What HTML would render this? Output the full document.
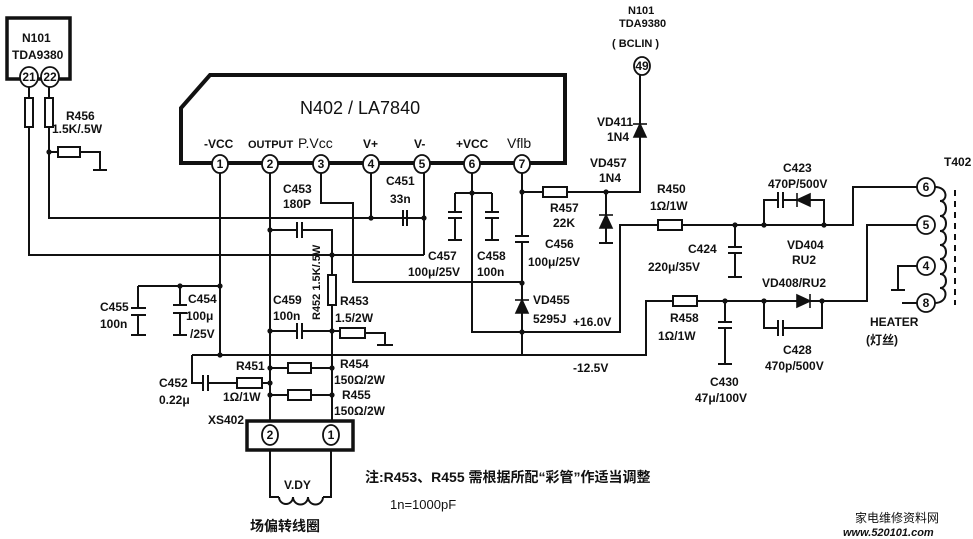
<!DOCTYPE html><html><head><meta charset="utf-8"><style>
html,body{margin:0;padding:0;background:#fff}
svg{display:block}
text{font-family:"Liberation Sans","Noto Sans CJK SC",sans-serif;fill:#111}
</style></head><body>
<svg width="973" height="539" viewBox="0 0 973 539" xmlns="http://www.w3.org/2000/svg">
<g stroke="#111" stroke-width="2" fill="none">
<rect x="7" y="18" width="63" height="61" stroke-width="3.5"/>
<path d="M565 163 V75 H210 L181 108 V163 Z" stroke-width="4"/>
<path d="M29 86 V98 M29 127 V255 H424 M49 86 V98 M49 127 V218 H424"/>
<rect x="25" y="98" width="8" height="29" fill="#fff"/>
<rect x="45" y="98" width="8" height="29" fill="#fff"/>
<path d="M49 152 H58 M80 152 H100 V170 M93 170 H107"/>
<rect x="58" y="147" width="22" height="10" fill="#fff"/>
<path d="M220 172 V355 M138 286 H220 M138 286 V308 M138 315 V335 M131 335 H146 M131 308 H146 M131 315 H146"/>
<path d="M180 286 V305 M173 305 H187 M173 313 H187 M180 313 V335 M173 335 H187"/>
<path d="M192 355 H646 V301 H673 M697 301 H764 M192 355 V383 H203 M208 383 H237 M262 383 H270"/>
<path d="M203 375 V391 M208 375 V391"/>
<rect x="237" y="378" width="25" height="10" fill="#fff"/>
<path d="M270 172 V420 M270 230 H297 M302 230 H332 V275 M332 305 V420 M270 331 H297 M302 331 H340 M365 333 H385 V345 M377 345 H393"/>
<path d="M297 222 V238 M302 222 V238 M297 323 V339 M302 323 V339"/>
<rect x="328" y="275" width="8" height="30" fill="#fff"/>
<rect x="340" y="328" width="25" height="10" fill="#fff"/>
<path d="M270 368 H288 M311 368 H332 M270 395 H288 M311 395 H332"/>
<rect x="288" y="363" width="23" height="10" fill="#fff"/>
<rect x="288" y="390" width="23" height="10" fill="#fff"/>
<rect x="247" y="421" width="106" height="29" stroke-width="3.5"/>
<path d="M270 450 V497 H279 M331 450 V497 H323"/>
<path d="M279 497 a7 7 0 0 0 14 0 a7 7 0 0 0 15 0 a7 7 0 0 0 15 0"/>
<path d="M321 172 V203 H353 V282 H523"/>
<path d="M371 172 V218 M403 210 V226 M407 210 V226 M424 172 V255"/>
<path d="M472 172 V332 H620 V225 H658 M455 193 H492 M455 193 V212 M448 212 H462 M448 218 H462 M455 218 V240 M448 240 H462 M492 193 V212 M485 212 H499 M485 218 H499 M492 218 V240 M485 240 H499"/>
<path d="M522 172 V236 M515 236 H529 M515 242 H529 M522 242 V355 M522 192 H543 M567 192 H640 V65 M606 192 V243 M599 243 H613"/>
<rect x="543" y="187" width="24" height="10" fill="#fff"/>
<path d="M682 225 H853 V187 H917 M735 225 V247 M728 247 H742 M728 253 H742 M735 253 V277 M728 277 H742 M764 225 V200 H778 M783 200 H824 V225 M778 192 V208 M783 192 V208"/>
<rect x="658" y="220" width="24" height="10" fill="#fff"/>
<path d="M917 225 H867 V301 H764 V328 H778 M783 328 H822 V301 M778 320 V336 M783 320 V336 M725 301 V322 M718 322 H732 M718 328 H732 M725 328 V364 M718 364 H732"/>
<rect x="673" y="296" width="24" height="10" fill="#fff"/>
<path d="M917 266 H898 V290 M891 290 H905 M917 303 H902"/>
<path d="M935 187 C948 187 948 201 940 201 C948 201 948 216 940 216 C948 216 948 231 940 231 C948 231 948 245 940 245 C948 245 948 259 940 259 C948 259 948 274 940 274 C948 274 948 288 940 288 C948 288 948 303 935 303"/>
<path d="M955 190 V305" stroke-dasharray="6 5"/>
</g>
<g fill="#111" stroke="#111" stroke-width="1.6">
<path d="M634 137 L646 137 L640 124 Z"/><path d="M633 124 H647"/>
<path d="M600 228 L612 228 L606 215 Z"/><path d="M599 215 H613"/>
<path d="M516 313 L528 313 L522 300 Z"/><path d="M515 300 H529"/>
<path d="M810 194 L810 206 L797 200 Z"/><path d="M797 193 V207"/>
<path d="M797 295 L797 307 L810 301 Z"/><path d="M810 294 V308"/>
</g>
<g fill="#111">
<circle cx="49" cy="152" r="2.6"/><circle cx="371" cy="218" r="2.6"/><circle cx="424" cy="218" r="2.6"/><circle cx="270" cy="230" r="2.6"/><circle cx="332" cy="255" r="2.6"/>
<circle cx="180" cy="286" r="2.6"/><circle cx="220" cy="286" r="2.6"/><circle cx="220" cy="355" r="2.6"/><circle cx="270" cy="331" r="2.6"/><circle cx="332" cy="331" r="2.6"/>
<circle cx="270" cy="368" r="2.6"/><circle cx="270" cy="383" r="2.6"/><circle cx="270" cy="395" r="2.6"/><circle cx="332" cy="368" r="2.6"/><circle cx="332" cy="395" r="2.6"/>
<circle cx="472" cy="193" r="2.6"/><circle cx="522" cy="192" r="2.6"/><circle cx="606" cy="192" r="2.6"/><circle cx="522" cy="283" r="2.6"/><circle cx="522" cy="332" r="2.6"/>
<circle cx="735" cy="225" r="2.6"/><circle cx="764" cy="225" r="2.6"/><circle cx="824" cy="225" r="2.6"/><circle cx="725" cy="301" r="2.6"/><circle cx="764" cy="301" r="2.6"/><circle cx="822" cy="301" r="2.6"/>
</g>
<g fill="#fff" stroke="#111" stroke-width="1.8">
<ellipse cx="29" cy="77" rx="9" ry="10"/><ellipse cx="50" cy="77" rx="9" ry="10"/>
<ellipse cx="220" cy="164" rx="8" ry="9"/><ellipse cx="270" cy="164" rx="8" ry="9"/><ellipse cx="321" cy="164" rx="8" ry="9"/><ellipse cx="371" cy="164" rx="8" ry="9"/><ellipse cx="422" cy="164" rx="8" ry="9"/><ellipse cx="472" cy="164" rx="8" ry="9"/><ellipse cx="522" cy="164" rx="8" ry="9"/>
<ellipse cx="642" cy="66" rx="8" ry="9"/>
<ellipse cx="270" cy="435" rx="8" ry="10"/><ellipse cx="331" cy="435" rx="8" ry="10"/>
<ellipse cx="926" cy="187" rx="9" ry="9"/><ellipse cx="926" cy="225" rx="9" ry="9"/><ellipse cx="926" cy="266" rx="9" ry="9"/><ellipse cx="926" cy="303" rx="9" ry="9"/>
</g>
<g text-anchor="middle" font-size="12" font-weight="bold">
<text x="29" y="81">21</text><text x="50" y="81">22</text>
<text x="220" y="168">1</text><text x="270" y="168">2</text><text x="321" y="168">3</text><text x="371" y="168">4</text><text x="422" y="168">5</text><text x="472" y="168">6</text><text x="522" y="168">7</text>
<text x="642" y="70">49</text><text x="270" y="439">2</text><text x="331" y="439">1</text>
<text x="926" y="191">6</text><text x="926" y="229">5</text><text x="926" y="270">4</text><text x="926" y="307">8</text>
</g>
<g font-size="12" font-weight="bold">
<text x="22" y="42">N101</text><text x="12" y="59">TDA9380</text>
<text x="66" y="120">R456</text><text x="52" y="133">1.5K/.5W</text>
<text x="300" y="114" font-size="18" font-weight="normal">N402 / LA7840</text>
<text x="204" y="148">-VCC</text><text x="248" y="148" font-size="11">OUTPUT</text><text x="298" y="148" font-size="14" font-weight="normal">P.Vcc</text><text x="363" y="148">V+</text><text x="414" y="148">V-</text><text x="456" y="148">+VCC</text><text x="507" y="148" font-size="14" font-weight="normal">Vflb</text>
<text x="283" y="193">C453</text><text x="283" y="208">180P</text>
<text x="386" y="185">C451</text><text x="390" y="203">33n</text>
<text x="428" y="260">C457</text><text x="408" y="276">100μ/25V</text>
<text x="477" y="260">C458</text><text x="477" y="276">100n</text>
<text x="628" y="14" font-size="11">N101</text><text x="619" y="27" font-size="11">TDA9380</text><text x="612" y="47" font-size="11">( BCLIN )</text>
<text x="597" y="126">VD411</text><text x="607" y="141">1N4</text>
<text x="590" y="167">VD457</text><text x="599" y="182">1N4</text>
<text x="550" y="212">R457</text><text x="553" y="227">22K</text>
<text x="545" y="248">C456</text><text x="528" y="266">100μ/25V</text>
<text x="533" y="304">VD455</text><text x="533" y="323">5295J</text><text x="573" y="326">+16.0V</text>
<text x="657" y="193">R450</text><text x="650" y="210">1Ω/1W</text>
<text x="688" y="253">C424</text><text x="648" y="271">220μ/35V</text>
<text x="783" y="172">C423</text><text x="768" y="188">470P/500V</text>
<text x="787" y="249">VD404</text><text x="792" y="264">RU2</text>
<text x="762" y="287">VD408/RU2</text>
<text x="670" y="322">R458</text><text x="658" y="340">1Ω/1W</text>
<text x="783" y="354">C428</text><text x="765" y="370">470p/500V</text>
<text x="573" y="372">-12.5V</text>
<text x="710" y="386">C430</text><text x="695" y="402">47μ/100V</text>
<text x="870" y="326">HEATER</text><text x="866" y="344">(灯丝)</text>
<text x="944" y="166">T402</text>
<text x="100" y="311">C455</text><text x="100" y="328">100n</text>
<text x="188" y="303">C454</text><text x="186" y="320">100μ</text><text x="190" y="338">/25V</text>
<text x="273" y="304">C459</text><text x="273" y="320">100n</text>
<text x="340" y="305">R453</text><text x="335" y="322">1.5/2W</text>
<text x="159" y="387">C452</text><text x="159" y="404">0.22μ</text>
<text x="236" y="370">R451</text><text x="223" y="401">1Ω/1W</text>
<text x="340" y="368">R454</text><text x="334" y="384">150Ω/2W</text>
<text x="342" y="399">R455</text><text x="334" y="415">150Ω/2W</text>
<text x="208" y="424">XS402</text>
<text x="284" y="489">V.DY</text>
<text x="250" y="531" font-size="14">场偏转线圈</text>
<text x="365" y="482" font-size="14">注:R453、R455 需根据所配“彩管”作适当调整</text>
<text x="390" y="509" font-size="13" font-weight="normal">1n=1000pF</text>
<text x="855" y="522" font-size="12" font-weight="normal" fill="#7a8aa8">家电维修资料网</text>
<text x="843" y="536" font-size="11" font-style="italic" fill="#8a9ab8">www.520101.com</text>
<text transform="translate(320 320) rotate(-90)" font-size="11">R452 1.5K/.5W</text>
</g>
</svg>
</body></html>
